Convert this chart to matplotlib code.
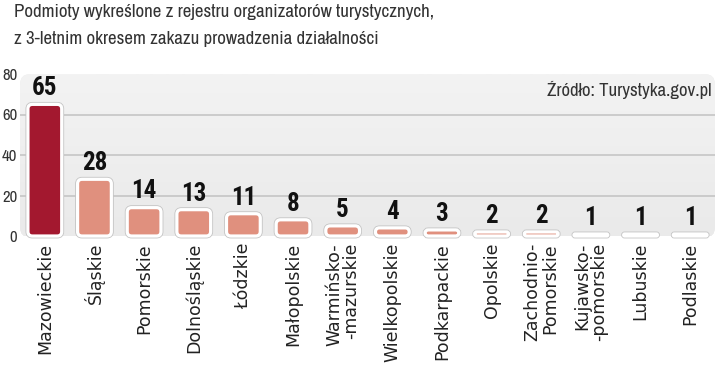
import matplotlib
matplotlib.use("Agg")
import matplotlib.pyplot as plt
import numpy as np
from matplotlib import font_manager
from matplotlib.patches import FancyBboxPatch

regions = ["Mazowieckie", "Śląskie", "Pomorskie", "Dolnośląskie", "Łódzkie",
           "Małopolskie", "Warmińsko-\n-mazurskie", "Wielkopolskie", "Podkarpackie",
           "Opolskie", "Zachodnio-\nPomorskie", "Kujawsko-\n-pomorskie", "Lubuskie", "Podlaskie"]
values = [65, 28, 14, 13, 11, 8, 5, 4, 3, 2, 2, 1, 1, 1]
yticks = [0, 20, 40, 60, 80]
title1 = "Podmioty wykreślone z rejestru organizatorów turystycznych,"
title2 = "z 3-letnim okresem zakazu prowadzenia działalności"
source = "Źródło: Turystyka.gov.pl"

fl = font_manager.fontManager.ttflist


def is_cond(f):
    return (("Condensed" in f.name or "Narrow" in f.name
             or f.stretch in ("condensed", "semi-condensed", "extra-condensed", 75, 87.5))
            and "Mono" not in f.name and "Serif" not in f.name)


def wnum(w):
    if isinstance(w, (int, float)):
        return w
    return {"light": 300, "normal": 400, "regular": 400, "medium": 500,
            "semibold": 600, "bold": 700, "heavy": 800, "black": 900}.get(str(w).lower(), 400)


cond = [f for f in fl if is_cond(f)]
names = sorted({f.name for f in cond})
narrow = names[0] if names else "Roboto"
bolds = [f for f in cond if wnum(f.weight) >= 700]
pref = ["Roboto Condensed", "Liberation Sans Narrow", "DejaVu Sans Condensed"]
bold_font = None
for p in pref:
    if any(f.name == p for f in bolds):
        bold_font = p
        break
if bold_font is None:
    bold_font = bolds[0].name if bolds else "Roboto"
light = narrow

W, H = 720, 369
fig = plt.figure(figsize=(7.2, 3.69), dpi=100)
fig.patch.set_facecolor("white")

ax_l, ax_r, ax_b, ax_t = 20, 715, 236, 74
ax = fig.add_axes([ax_l / W, 1 - ax_b / H, (ax_r - ax_l) / W, (ax_b - ax_t) / H])
ax.set_xlim(-0.5, 13.5)
ax.set_ylim(0, 80)
for s in ax.spines.values():
    s.set_visible(False)
ax.set_facecolor("none")

# rounded gradient background
bg = FancyBboxPatch((0, -0.01), 1, 1.01, boxstyle="round,pad=0,rounding_size=0.015",
                    transform=ax.transAxes, facecolor="#EEEEEE", edgecolor="none",
                    zorder=0, mutation_aspect=(ax_r - ax_l) / (ax_b - ax_t))
ax.add_patch(bg)
grad = np.linspace(0, 1, 100).reshape(-1, 1)
im = ax.imshow(grad, extent=[-0.5, 13.5, 0, 80], aspect="auto",
               cmap=matplotlib.colors.LinearSegmentedColormap.from_list("g", ["#EAEAEA", "#F3F3F3"]),
               origin="lower", zorder=0.5)
im.set_clip_path(bg)

for yv in yticks[1:-1]:
    ax.axhline(yv, color="#C2C2C2", lw=1.1, zorder=1)

ax.set_yticks(yticks)
ax.set_yticklabels([str(v) for v in yticks], fontsize=12, color="#333333",
                   family=light, fontweight="light")
ax.tick_params(axis="y", length=0, pad=2)

x = np.arange(len(values))
colors = ["#A3182F"] + ["#E0907E"] * (len(values) - 1)
bars = ax.bar(x, values, width=0.68, color=colors, zorder=2)

xpp = 14.0 / (ax_r - ax_l)
ypp = 80.0 / (ax_b - ax_t)
aspect = ypp / xpp
for rect, c in zip(bars, colors):
    bx, by, bw, bh = rect.get_x(), rect.get_y(), rect.get_width(), rect.get_height()
    rect.set_visible(False)
    r = min(0.09, bw / 2, (bh / aspect) / 2)
    outer = FancyBboxPatch((bx, by), bw, bh, boxstyle=f"round,pad=0,rounding_size={r}",
                           mutation_aspect=aspect, facecolor=c, edgecolor="#C4C4C4",
                           lw=3.5, zorder=2, clip_on=False)
    inner = FancyBboxPatch((bx, by), bw, bh, boxstyle=f"round,pad=0,rounding_size={r}",
                           mutation_aspect=aspect, facecolor=c, edgecolor="white",
                           lw=2.3, zorder=3, clip_on=False)
    ax.add_patch(outer)
    ax.add_patch(inner)

for xi, v in zip(x, values):
    ax.annotate(str(v), (xi, v), xytext=(0, 3), textcoords="offset points",
                ha="center", va="bottom", fontsize=18, fontweight="bold",
                family=bold_font, color="#111111", zorder=4)

ax.set_xticks(x)
ax.set_xticklabels(regions, rotation=90, ha="center", va="top", fontsize=12.5,
                   color="#222222", multialignment="right", linespacing=0.95)
ax.tick_params(axis="x", length=0, pad=5)

tsize = 13.6 if names else 11.8
fig.text(14 / W, 1 - 4 / H, title1, ha="left", va="top", fontsize=tsize, color="#333333",
         family=light, fontweight="light")
fig.text(14 / W, 1 - 31 / H, title2, ha="left", va="top", fontsize=tsize, color="#333333",
         family=light, fontweight="light")
ax.text(0.995, 0.955, source, transform=ax.transAxes, ha="right", va="top",
        fontsize=13.5 if names else 10.5, color="#333333", family=light, fontweight="light", zorder=5)

fig.savefig("out.png", dpi=100, facecolor="white")
